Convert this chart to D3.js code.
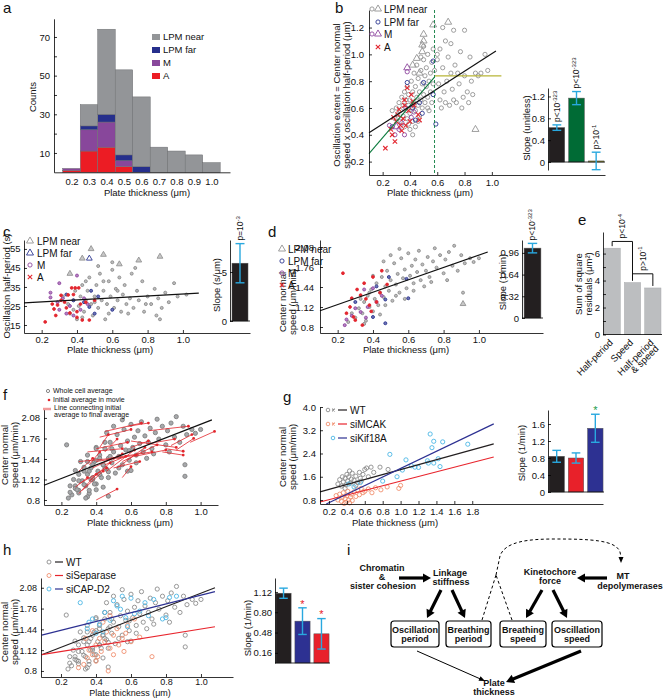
<!DOCTYPE html>
<html>
<head>
<meta charset="utf-8">
<script src="https://cdn.jsdelivr.net/npm/d3@7"></script>
<style>
body { margin: 0; background: #fff; }
</style>
</head>
<body>
<svg id="fig" width="664" height="698"></svg>
<script>
// ---------------- data ----------------
// a: histogram counts per plate-thickness bin
const aBins = [0.2, 0.3, 0.4, 0.5, 0.6, 0.7, 0.8, 0.9, 1.0];
const aA    = [1, 11, 13, 3, 0, 0, 0, 0, 0];
const aM    = [1, 11, 13, 3, 0, 0, 0, 0, 0];
const aFar  = [0, 2, 4, 3, 3, 0, 0, 0, 0];
const aNear = [0, 11, 44, 44, 36, 13, 11, 9, 5];

// b: oscillation extent vs plate thickness
const bNear = [[0.27,0.58],[0.29,0.52],[0.30,0.60],[0.31,0.55],[0.32,0.64],[0.33,0.50],[0.33,0.58],[0.34,0.68],[0.35,0.54],[0.35,0.62],
  [0.36,0.72],[0.36,0.46],[0.37,0.58],[0.37,0.66],[0.38,0.52],[0.38,0.76],[0.39,0.62],[0.39,0.70],[0.40,0.44],[0.40,0.56],
  [0.40,0.66],[0.41,0.80],[0.41,0.60],[0.42,0.72],[0.42,0.50],[0.43,0.64],[0.43,0.86],[0.44,0.58],[0.44,0.76],[0.45,0.68],
  [0.45,0.92],[0.46,0.62],[0.46,0.82],[0.47,0.72],[0.47,0.54],[0.48,0.66],[0.48,0.88],[0.49,0.78],[0.49,0.60],[0.50,0.70],
  [0.50,0.96],[0.51,0.84],[0.51,0.64],[0.52,0.76],[0.52,0.90],[0.53,0.68],[0.53,1.00],[0.54,0.80],[0.54,0.58],[0.55,0.86],
  [0.55,0.72],[0.56,0.94],[0.56,0.64],[0.57,0.78],[0.57,1.04],[0.58,0.88],[0.46,0.50],[0.44,0.46],[0.42,0.40],[0.39,0.48],
  [0.48,0.98],[0.50,1.06],[0.53,0.60],[0.60,0.96],[0.61,0.78],[0.62,0.66],[0.62,1.04],[0.63,0.60],[0.64,0.90],[0.65,0.72],
  [0.66,1.10],[0.66,0.64],[0.67,0.80],[0.68,0.98],[0.69,0.62],[0.70,0.86],[0.71,0.74],[0.72,1.18],[0.72,0.66],[0.73,0.92],
  [0.74,0.64],[0.75,0.86],[0.76,0.78],[0.77,1.02],[0.78,0.60],[0.79,0.68],[0.80,0.84],[0.80,1.18],[0.82,0.72],[0.83,0.64],
  [0.84,0.98],[0.85,0.80],[0.86,0.70],[0.88,0.86],[0.90,0.84],[0.92,0.86],[0.95,1.00],[0.97,0.88],[0.64,1.20],[0.70,1.08],[0.60,1.00]];
const bNearTri = [[0.50,1.15],[0.50,1.10],[0.49,1.07],[0.49,1.02],[0.57,1.22],[0.68,1.24],[0.45,0.97],[0.42,0.92],[0.88,0.44],[0.47,0.86]];
const bFar = [[0.57,0.95],[0.38,0.79],[0.50,0.79],[0.57,0.70],[0.47,0.64],[0.49,0.56],[0.44,0.51],[0.59,0.48],[0.27,0.46],[0.42,0.60]];
const bM = [[0.38,0.87],[0.25,0.47],[0.36,0.40],[0.29,0.40],[0.34,0.49],[0.41,0.53],[0.32,0.44],[0.37,0.60],[0.43,0.57]];
const bMTri = [[0.38,0.90],[0.30,0.46]];
const bA = [[0.22,0.30],[0.29,0.35],[0.27,0.40],[0.33,0.47],[0.36,0.62],[0.38,0.75],[0.42,0.65],[0.46,0.55],[0.47,0.51],[0.28,0.53],
  [0.37,0.47],[0.31,0.55],[0.34,0.43],[0.30,0.50],[0.35,0.52],[0.39,0.58],[0.40,0.50],[0.32,0.59],[0.43,0.62],[0.26,0.44],[0.36,0.66],[0.41,0.70]];
const bFitAll  = [[0.1,0.416],[1.03,1.025]];
const bFitLow  = [[0.1,0.26],[0.58,0.83]];
const bFitHigh = [[0.58,0.84],[1.07,0.84]];
const bCut = 0.58;
const bSlopes = [0.63, 1.17, 0.02];
const bErr    = [0.05, 0.12, 0.16];
const bP = [['p<10','-323'],['p<10','-323'],['p>10','-1']];

// c: oscillation half-period (s)
const cNear = [[0.32,30],[0.35,26],[0.36,21],[0.38,28],[0.39,33],[0.40,18],[0.41,25],[0.42,30],[0.43,36],[0.44,22],
  [0.45,28],[0.46,33],[0.47,40],[0.48,26],[0.49,20],[0.50,30],[0.51,36],[0.52,24],[0.53,42],[0.54,28],[0.55,33],[0.56,18],
  [0.57,26],[0.58,38],[0.59,30],[0.60,44],[0.61,24],[0.62,34],[0.63,28],[0.64,40],[0.65,22],[0.66,31],[0.67,36],[0.68,26],
  [0.70,29],[0.71,42],[0.72,24],[0.74,33],[0.75,28],[0.77,38],[0.78,22],[0.80,30],[0.82,26],[0.84,34],[0.85,20],[0.86,29],
  [0.88,24],[0.90,32],[0.92,27],[0.95,37],[0.97,30],[1.02,31],[0.45,38],[0.50,27],[0.55,38],[0.58,21],[0.63,33],[0.69,21],
  [0.38,23],[0.43,19],[0.79,26],[0.87,18],[0.73,45],[0.60,48],[0.52,46]];
const cNearTri = [[0.36,42],[0.43,50],[0.55,52],[0.64,47],[0.75,49],[0.87,51],[0.48,55]];
const cFarTri = [[0.47,50]];
const cFar = [[0.34,31],[0.48,33],[0.52,30],[0.47,24.5],[0.50,21],[0.60,23],[0.38,28],[0.44,27]];
const cM = [[0.25,32],[0.25,29.5],[0.30,37],[0.40,41],[0.36,25],[0.30,23],[0.34,21],[0.42,23],[0.29,27],[0.44,29],[0.46,26],[0.32,29],[0.38,20]];
const cA = [[0.22,16.6],[0.27,23.4],[0.29,25.5],[0.31,28],[0.31,30.6],[0.35,30.8],[0.37,34.5],[0.39,34.5],[0.41,34.5],[0.34,24],
  [0.36,21.3],[0.40,22],[0.42,26],[0.45,27],[0.50,28],[0.43,17.6],[0.47,17.6],[0.28,20],[0.33,27],[0.38,31],[0.26,26],[0.40,19]];
const cFit = [[0.1,26.6],[1.09,31.8]];
const cSlope = [5.9], cErr = [2.0];

// d: center normal speed (um/min)
const dNear = [[0.30,0.95],[0.32,1.10],[0.34,1.02],[0.35,1.20],[0.36,0.90],[0.37,1.30],[0.38,1.12],[0.39,1.40],[0.40,1.05],[0.41,1.25],
  [0.42,1.50],[0.43,1.15],[0.44,1.35],[0.45,1.60],[0.46,1.28],[0.47,1.45],[0.48,1.70],[0.49,1.38],[0.50,1.55],[0.51,1.22],
  [0.52,1.82],[0.53,1.48],[0.54,1.65],[0.55,1.35],[0.56,1.90],[0.57,1.58],[0.58,1.72],[0.59,1.42],[0.60,1.98],[0.61,1.62],
  [0.62,1.78],[0.63,1.50],[0.64,1.88],[0.65,1.68],[0.66,2.02],[0.67,1.55],[0.68,1.80],[0.70,1.70],[0.71,1.92],[0.72,1.60],
  [0.74,1.85],[0.75,2.06],[0.76,1.75],[0.78,1.95],[0.80,1.66],[0.81,1.88],[0.83,2.00],[0.85,1.78],[0.86,2.10],[0.88,1.70],
  [0.90,1.95],[0.92,1.82],[0.95,1.90],[0.97,1.84],[1.00,1.90],[0.44,1.00],[0.47,1.15],[0.53,1.30],[0.58,1.25],[0.63,1.38],
  [0.40,1.62],[0.46,1.85],[0.50,1.95],[0.55,2.05],[0.69,1.45],[0.73,1.52],[0.82,1.55],[0.91,1.35],[0.35,0.85],[0.26,0.88],
  [0.28,1.02],[0.33,1.25],[0.38,1.35]];
const dNearTri = [[0.91,1.17]];
const dFar = [[0.47,0.86],[0.60,1.26],[0.59,1.57],[0.49,1.60],[0.47,1.24],[0.40,0.96],[0.30,1.20],[0.42,1.45]];
const dM = [[0.24,0.83],[0.25,0.92],[0.33,1.04],[0.37,1.12],[0.40,1.42],[0.35,1.40],[0.42,1.20],[0.30,1.10],[0.36,0.95],[0.45,1.30],[0.28,0.98]];
const dA = [[0.23,1.66],[0.35,1.50],[0.33,1.31],[0.28,1.26],[0.25,1.02],[0.30,0.91],[0.42,1.20],[0.44,1.35],[0.40,1.60],[0.34,0.83],
  [0.45,1.70],[0.38,1.15],[0.31,1.40],[0.27,1.12],[0.36,1.25],[0.48,1.48],[0.29,0.96],[0.39,1.05]];
const dFit = [[0.1,1.06],[1.05,2.0]];
const dSlope = [1.03], dErr = [0.07];

// e: sum of square residuals
const eCats = ['Half-period', 'Speed', 'Half-period|& speed'];
const eVals = [6.4, 3.85, 3.45];
const eBrackets = [{a: 0, b: 1, level: 6.9, p: ['p<10', '-4']}, {a: 1, b: 2, level: 4.5, p: ['p>10', '-1']}];

// f: initial -> final averages  [x0, y0, x1, y1], dot at initial end
const fSegs = [[0.52,0.97,0.40,0.80],[1.08,1.87,0.94,1.70],[0.93,1.95,0.70,1.88],[0.95,1.82,0.83,1.65],[0.90,1.56,0.80,1.60],
  [0.70,2.00,0.58,1.95],[0.66,2.00,0.45,1.87],[0.60,1.90,0.42,1.78],[0.58,1.70,0.40,1.60],[0.86,1.62,0.60,1.72],
  [0.72,1.55,0.48,1.45],[0.63,1.50,0.40,1.40],[0.55,1.60,0.35,1.55],[0.50,1.45,0.30,1.40],[0.46,1.30,0.30,1.05],
  [0.44,1.25,0.32,0.95],[0.40,1.20,0.30,0.90],[0.48,1.38,0.36,1.10],[0.68,1.62,0.52,1.30],[0.75,1.66,0.55,1.40],
  [0.62,1.58,0.46,1.25],[0.55,1.52,0.38,1.30],[0.80,1.58,0.62,1.48],[0.85,1.75,0.70,1.68],[0.90,1.50,0.78,1.55],
  [0.52,1.75,0.45,1.55],[0.57,1.48,0.45,1.35],[0.42,1.55,0.36,1.35],[0.38,1.45,0.30,1.25],[0.65,1.40,0.50,1.30],
  [0.70,1.72,0.60,1.62],[0.96,1.76,0.86,1.58],[0.47,1.82,0.42,1.62],[0.35,1.15,0.28,1.00],[0.60,1.32,0.55,1.15]];
const fFit = [[0.1,1.03],[1.065,2.05]];

// g: siRNA of depolymerases
const gWT = [[0.30,1.35],[0.32,1.50],[0.34,1.28],[0.35,1.60],[0.36,1.42],[0.38,1.55],[0.39,1.32],[0.40,1.68],[0.41,1.45],[0.42,1.60],
  [0.44,1.38],[0.45,1.52],[0.46,1.72],[0.48,1.48],[0.50,1.62],[0.52,1.40],[0.54,1.75],[0.55,1.55],[0.58,1.68],[0.60,1.85],
  [0.62,1.90],[0.64,1.60],[0.67,1.93],[0.70,1.75],[0.77,1.93],[0.86,1.85],[0.38,1.20],[0.43,1.80],[0.50,1.30],[0.56,1.45]];
const gMCAK = [[0.28,0.95],[0.30,0.80],[0.32,1.00],[0.34,0.75],[0.35,0.90],[0.36,1.05],[0.38,0.85],[0.39,0.72],[0.40,0.95],[0.41,1.10],
  [0.42,0.80],[0.44,0.90],[0.45,1.00],[0.46,0.78],[0.48,1.08],[0.50,0.92],[0.52,1.15],[0.54,0.98],[0.56,1.20],[0.58,1.05],
  [0.60,1.10],[0.64,1.18],[0.68,1.05],[0.72,1.22],[0.78,1.15],[0.85,1.25],[0.98,1.20],[1.00,1.30],[0.43,0.70],[0.37,0.68]];
const gKif = [[1.33,3.07],[1.37,2.82],[1.47,2.80],[1.35,2.60],[1.75,2.72],[0.88,2.37],[1.42,2.22],[1.31,2.07],[1.37,2.07],[1.44,1.95],
  [1.16,1.93],[1.12,1.98],[1.06,2.18],[1.02,1.83],[0.96,1.60],[1.20,1.92],[0.80,1.45],[1.30,2.15],[0.55,1.40],[0.48,1.25],[0.42,1.35]];
const gFitWT = [[0.1,1.08],[2.04,2.73]];
const gFitMCAK = [[0.1,0.73],[2.04,2.28]];
const gFitKif = [[0.17,0.66],[2.04,3.42]];
const gSlopes = [0.84, 0.80, 1.50], gErr = [0.14, 0.12, 0.33];

// h: siRNA of cohesion / condensin
const hSep = [[0.30,0.85],[0.33,0.90],[0.35,1.00],[0.36,1.12],[0.38,1.05],[0.40,1.20],[0.40,0.95],[0.42,1.30],[0.43,1.10],[0.45,1.25],
  [0.46,1.40],[0.47,0.80],[0.48,1.15],[0.50,1.35],[0.50,1.05],[0.52,1.45],[0.53,1.20],[0.55,1.30],[0.56,1.10],[0.58,1.50],
  [0.60,1.25],[0.62,1.60],[0.72,1.02],[0.38,1.42],[0.44,1.55],[0.34,1.30],[0.57,1.38],[0.65,1.32],[0.48,1.65],[0.41,1.02]];
const hCap = [[0.31,1.85],[0.35,1.45],[0.38,1.60],[0.40,1.38],[0.42,1.52],[0.45,1.70],[0.48,1.58],[0.50,1.88],[0.52,1.80],[0.54,1.75],
  [0.55,1.95],[0.57,1.62],[0.60,1.92],[0.62,1.68],[0.65,1.72],[0.68,1.85],[0.70,1.65],[0.73,1.90],[0.78,1.60],[0.80,1.62],
  [0.82,1.93],[0.86,1.95],[0.44,1.40],[0.58,1.48],[0.36,1.55]];
const hFitWT = [[0.09,1.05],[1.08,2.08]];
const hFitSep = [[0.09,1.05],[1.08,1.48]];
const hFitCap = [[0.09,1.35],[1.08,2.02]];
const hSlopes = [1.10, 0.66, 0.46], hErr = [0.08, 0.21, 0.24];

// whole-cell averages (all classes) reused in f and h
const allCells = [].concat(dNear, dNearTri, dFar, dM, dA);

// ---------------- drawing ----------------
const FONT = '"Liberation Sans", Arial, Helvetica, sans-serif';
const svg = d3.select('#fig');
const GRAY = '#939393', NAVY = '#2b3590', PURP = '#8f479f', RED = '#e3262f', CYAN = '#29a8df';

function txt(x, y, s, o = {}) {
  const t = svg.append('text').attr('x', x).attr('y', y)
    .attr('font-size', o.size || 9.5).attr('font-family', FONT)
    .attr('text-anchor', o.anchor || 'middle').attr('fill', o.fill || '#111')
    .attr('dy', o.dy == null ? '0.35em' : o.dy).text(s);
  if (o.rot) t.attr('transform', `rotate(${o.rot},${x},${y})`);
  if (o.weight) t.attr('font-weight', o.weight);
  return t;
}

function pLabel(x, yBottom, base, sup, fill) {
  const t = svg.append('text').attr('transform', `translate(${x},${yBottom}) rotate(-90)`)
    .attr('font-size', 8.5).attr('font-family', FONT).attr('dy', '0.35em').attr('fill', fill || '#111');
  t.append('tspan').text(base);
  t.append('tspan').attr('font-size', 6).attr('dy', '-0.55em').text(sup);
}

function styleAxis(sel, fs) {
  sel.attr('font-family', FONT).attr('font-size', fs || 9.5);
  sel.select('.domain').attr('stroke', '#000').attr('stroke-width', 0.8);
  sel.selectAll('.tick line').attr('stroke', '#000').attr('stroke-width', 0.8);
  sel.selectAll('.tick text').attr('fill', '#111');
}

function axes(xs, ys, xt, yt, o = {}) {
  const gx = svg.append('g').attr('transform', `translate(0,${ys.range()[0]})`)
    .call(d3.axisBottom(xs).tickValues(xt).tickSize(o.xTick == null ? -3 : o.xTick).tickSizeOuter(0)
      .tickPadding(o.xpad || 4).tickFormat(o.xf || d3.format('.1f')));
  const gy = svg.append('g').attr('transform', `translate(${xs.range()[0]},0)`)
    .call(d3.axisLeft(ys).tickValues(yt).tickSize(-3).tickSizeOuter(0)
      .tickPadding(o.ypad || 4).tickFormat(o.yf || (d => d)));
  styleAxis(gx, o.fs); styleAxis(gy, o.fs);
}

function marks(xs, ys, pts, shape, stroke, fill, r) {
  const g = svg.append('g');
  pts.forEach(p => {
    const X = xs(p[0]), Y = ys(p[1]);
    if (shape === 'circle') {
      g.append('circle').attr('cx', X).attr('cy', Y).attr('r', r)
        .attr('fill', fill || 'none').attr('stroke', stroke).attr('stroke-width', 0.9);
    } else if (shape === 'tri') {
      g.append('path').attr('d', d3.symbol(d3.symbolTriangle, r * r * 4)())
        .attr('transform', `translate(${X},${Y})`).attr('fill', fill || 'none')
        .attr('stroke', stroke).attr('stroke-width', 0.9);
    } else if (shape === 'x') {
      g.append('path').attr('d', `M${X - r},${Y - r}L${X + r},${Y + r}M${X - r},${Y + r}L${X + r},${Y - r}`)
        .attr('stroke', stroke).attr('stroke-width', 1.1);
    }
  });
}

function fit(xs, ys, pts, color, w, dash) {
  const l = svg.append('path').attr('d', d3.line().x(d => xs(d[0])).y(d => ys(d[1]))(pts))
    .attr('fill', 'none').attr('stroke', color).attr('stroke-width', w || 1.2);
  if (dash) l.attr('stroke-dasharray', dash);
}

function legendMark(x, y, shape, color, fill, r) {
  const s = d3.scaleLinear().domain([0, 1]).range([0, 1]);
  marks(s, s, [[x, y]], shape, color, fill, r);
}

function barInset(o) {
  const band = d3.scaleBand().domain(o.vals.map((d, i) => i)).range(o.xr)
    .paddingInner(0.2).paddingOuter(o.po == null ? 0.05 : o.po);
  const y = o.y;
  svg.append('g').selectAll('rect').data(o.vals).join('rect')
    .attr('x', (d, i) => band(i)).attr('width', band.bandwidth())
    .attr('y', d => Math.min(y(d), y(0))).attr('height', d => Math.abs(y(0) - y(d)))
    .attr('fill', (d, i) => o.colors[i]).attr('stroke', o.edge || '#555').attr('stroke-width', 0.5);
  svg.append('line').attr('x1', o.xr[0]).attr('x2', o.xr[1]).attr('y1', y(0)).attr('y2', y(0))
    .attr('stroke', '#000').attr('stroke-width', 0.8);
  const ga = svg.append('g').attr('transform', `translate(${o.xr[0]},0)`)
    .call(d3.axisLeft(y).tickValues(o.ticks).tickSize(-3).tickSizeOuter(0).tickPadding(3).tickFormat(o.fmt));
  styleAxis(ga);
  if (o.errs) {
    o.vals.forEach((v, i) => {
      const cx = band(i) + band.bandwidth() / 2, hw = band.bandwidth() * 0.28;
      const y1 = y(v - o.errs[i]), y2 = y(v + o.errs[i]);
      const g = svg.append('g').attr('stroke', CYAN).attr('stroke-width', 1.4);
      g.append('line').attr('x1', cx).attr('x2', cx).attr('y1', y1).attr('y2', y2);
      g.append('line').attr('x1', cx - hw).attr('x2', cx + hw).attr('y1', y1).attr('y2', y1);
      g.append('line').attr('x1', cx - hw).attr('x2', cx + hw).attr('y1', y2).attr('y2', y2);
    });
  }
  return band;
}

// ================= panel a =================
txt(3, 8, 'a', {size: 15, anchor: 'start'});
const ax = d3.scaleLinear().domain([0.1, 1.106]).range([54, 230]);
const ay = d3.scaleLinear().domain([0, 79.4]).range([172.3, 18.8]);
const aStack = d3.stack().keys(['A', 'M', 'Far', 'Near'])(aBins.map((b, i) => ({bin: b, A: aA[i], M: aM[i], Far: aFar[i], Near: aNear[i]})));
const aCol = {A: '#ec1c24', M: '#88479b', Far: '#262f8c', Near: '#939598'};
aStack.forEach(layer => {
  svg.append('g').selectAll('rect').data(layer).join('rect')
    .attr('x', d => ax(d.data.bin - 0.05)).attr('width', ax(0.15) - ax(0.05))
    .attr('y', d => ay(d[1])).attr('height', d => ay(d[0]) - ay(d[1]))
    .attr('fill', aCol[layer.key]).attr('stroke', d => d[1] > d[0] ? '#6d6e71' : 'none').attr('stroke-width', 0.5);
});
axes(ax, ay, aBins, [10, 20, 30, 40, 50, 60, 70], {xTick: 0, xpad: 6, ypad: 4, yf: d => (d % 20 === 10 ? d : '')});
txt(33, 97, 'Counts', {rot: -90});
txt(147, 193, 'Plate thickness (μm)');
[['LPM near', 'Near'], ['LPM far', 'Far'], ['M', 'M'], ['A', 'A']].forEach((it, i) => {
  svg.append('rect').attr('x', 152).attr('y', 34 + i * 13).attr('width', 8).attr('height', 6).attr('fill', aCol[it[1]]);
  txt(163, 37 + i * 13, it[0], {anchor: 'start'});
});

// ================= panel b =================
txt(335, 8, 'b', {size: 15, anchor: 'start'});
const bx = d3.scaleLinear().domain([0.1, 1.829]).range([369, 605]);
const by = d3.scaleLinear().domain([0.1, 1.331]).range([175, 10]);
marks(bx, by, bNear, 'circle', GRAY, null, 2.1);
marks(bx, by, bNearTri, 'tri', GRAY, null, 2.3);
marks(bx, by, bFar, 'circle', NAVY, null, 2.1);
marks(bx, by, bM, 'circle', PURP, null, 2.1);
marks(bx, by, bMTri, 'tri', PURP, null, 2.3);
marks(bx, by, bA, 'x', RED, null, 2.2);
fit(bx, by, bFitLow, '#0a7a3c', 1.1);
fit(bx, by, bFitHigh, '#b7b537', 1.3);
fit(bx, by, bFitAll, '#111', 1.2);
svg.append('line').attr('x1', bx(bCut)).attr('x2', bx(bCut)).attr('y1', by.range()[1]).attr('y2', by.range()[0])
  .attr('stroke', '#0a7a3c').attr('stroke-width', 0.9).attr('stroke-dasharray', '3,2');
axes(bx, by, [0.2, 0.4, 0.6, 0.8, 1.0], [0.2, 0.4, 0.6, 0.8, 1.0, 1.2], {xpad: 4.5, ypad: 5, yf: d3.format('.1f')});
txt(337, 95, 'Oscillation extent = Center normal', {rot: -90});
txt(347, 95, 'speed x oscillation half-period (μm)', {rot: -90});
txt(430, 193, 'Plate thickness (μm)');
legendMark(372, 9, 'circle', GRAY, null, 2.1); legendMark(378, 9, 'tri', GRAY, null, 2.3);
legendMark(378, 22, 'circle', NAVY, null, 2.1);
legendMark(372, 34, 'circle', PURP, null, 2.1); legendMark(378, 34, 'tri', PURP, null, 2.3);
legendMark(378, 47, 'x', RED, null, 2.2);
['LPM near', 'LPM far', 'M', 'A'].forEach((s, i) => txt(384, [9, 22, 34, 47][i], s, {anchor: 'start', size: 10}));
// inset
const bIy = d3.scaleLinear().domain([-0.146, 1.355]).range([170, 88]);
const bBand = barInset({vals: bSlopes, errs: bErr, xr: [548, 605], y: bIy, colors: ['#231f20', '#006b35', '#b7b537'],
  ticks: [0, 0.4, 0.8, 1.2], fmt: d => (d === 0 ? '0' : d3.format('.1f')(d))});
bSlopes.forEach((v, i) => pLabel(bBand(i) + bBand.bandwidth() / 2, bIy(v + bErr[i]) - 3, bP[i][0], bP[i][1]));
txt(527, 128, 'Slope (unitless)', {rot: -90});

// ================= panel c =================
txt(3, 232, 'c', {size: 15, anchor: 'start'});
const cx = d3.scaleLinear().domain([0.1, 1.38]).range([24, 250]);
const cy = d3.scaleLinear().domain([10.79, 59.7]).range([333, 240]);
marks(cx, cy, cNear, 'circle', '#8c8c8c', '#bdbdbd', 1.5);
marks(cx, cy, cNearTri, 'tri', GRAY, '#c8c8c8', 1.9);
marks(cx, cy, cFarTri, 'tri', NAVY, null, 1.9);
marks(cx, cy, cFar, 'circle', NAVY, '#6f74b5', 1.5);
marks(cx, cy, cM, 'circle', PURP, '#b580c2', 1.5);
marks(cx, cy, cA, 'circle', RED, RED, 1.4);
fit(cx, cy, cFit, '#111', 1.2);
axes(cx, cy, [0.2, 0.4, 0.6, 0.8, 1.0], [15, 25, 35, 45, 55], {xpad: 3.5, ypad: 3.5});
txt(7, 286, 'Oscillation half-period (s)', {rot: -90});
txt(110, 350, 'Plate thickness (μm)');
legendMark(30, 241, 'tri', GRAY, null, 2.3);
legendMark(30, 253, 'tri', NAVY, null, 2.3);
legendMark(30, 265, 'circle', PURP, null, 2.1);
legendMark(30, 277, 'x', RED, null, 2.2);
['LPM near', 'LPM far', 'M', 'A'].forEach((s, i) => txt(37, 241 + i * 12, s, {anchor: 'start', size: 10}));
const cIy = d3.scaleLinear().domain([0, 8.27]).range([321, 240]);
const cBand = barInset({vals: cSlope, errs: cErr, xr: [230, 250], po: 0.1, y: cIy, colors: ['#231f20'], ticks: [0, 5], fmt: d => d});
pLabel(cBand(0) + cBand.bandwidth() / 2, cIy(cSlope[0] + cErr[0]) - 3, 'p=10', '-3');
txt(217, 285, 'Slope (s/μm)', {rot: -90});

// ================= panel d =================
txt(268, 232, 'd', {size: 15, anchor: 'start'});
const dx = d3.scaleLinear().domain([0.1, 1.363]).range([320, 543]);
const dy = d3.scaleLinear().domain([0.704, 2.192]).range([333, 240]);
marks(dx, dy, dNear, 'circle', '#8c8c8c', '#bdbdbd', 1.5);
marks(dx, dy, dNearTri, 'tri', GRAY, '#c8c8c8', 1.9);
marks(dx, dy, dFar, 'circle', NAVY, '#6f74b5', 1.5);
marks(dx, dy, dM, 'circle', PURP, '#b580c2', 1.5);
marks(dx, dy, dA, 'circle', RED, RED, 1.4);
fit(dx, dy, dFit, '#111', 1.2);
txt(283, 302, 'Center normal', {rot: -90});
txt(293, 302, 'speed (μm/min)', {rot: -90});
axes(dx, dy, [0.2, 0.4, 0.6, 0.8, 1.0], [0.8, 1.12, 1.44, 1.76, 2.08], {xpad: 3.5, ypad: 6});
txt(406, 350, 'Plate thickness (μm)');
legendMark(282, 249, 'tri', GRAY, null, 2.3);
legendMark(282, 261, 'circle', NAVY, null, 2.1);
legendMark(282, 273, 'circle', PURP, null, 2.1);
legendMark(282, 285, 'x', RED, null, 2.2);
['LPM near', 'LPM far', 'M', 'A'].forEach((s, i) => txt(288, 249 + i * 12, s, {anchor: 'start', size: 10}));
const dIy = d3.scaleLinear().domain([0, 1.15]).range([318, 240]);
const dBand = barInset({vals: dSlope, errs: dErr, xr: [522, 543], po: 0.1, y: dIy, colors: ['#231f20'],
  ticks: [0, 0.32, 0.64, 0.96], fmt: d => d});
pLabel(dBand(0) + dBand.bandwidth() / 2, dIy(dSlope[0] + dErr[0]) - 3, 'p<10', '-323');
txt(503, 282, 'Slope (1/min)', {rot: -90});

// ================= panel e =================
txt(578, 220, 'e', {size: 15, anchor: 'start'});
const eY = d3.scaleLinear().domain([0, 7.6]).range([334.5, 232]);
const eBand = barInset({vals: eVals, xr: [603, 662], y: eY, colors: ['#bcbec0', '#bcbec0', '#bcbec0'], edge: '#a7a9ac',
  ticks: [0, 1, 2, 3, 4, 5, 6], fmt: d => (d % 2 === 0 ? d : '')});
eBrackets.forEach(b => {
  const x1 = eBand(b.a) + eBand.bandwidth() / 2, x2 = eBand(b.b) + eBand.bandwidth() / 2, yl = eY(b.level);
  svg.append('path').attr('d', `M${x1},${eY(eVals[b.a]) - 2}V${yl}H${x2}V${eY(eVals[b.b]) - 2}`)
    .attr('fill', 'none').attr('stroke', '#111').attr('stroke-width', 1);
  pLabel((x1 + x2) / 2, yl - 3, b.p[0], b.p[1]);
});
eCats.forEach((c, i) => {
  const lines = c.split('|');
  const X = eBand(i) + eBand.bandwidth() / 2 - 1;
  lines.forEach((s, j) => txt(X + j * 5, 341 + j * 6, s, {anchor: 'end', rot: -45}));
});
txt(579, 284, 'Sum of square', {rot: -90});
txt(589, 284, 'residuals (μm²)', {rot: -90});

// ================= panel f =================
txt(3, 395, 'f', {size: 15, anchor: 'start'});
const fx = d3.scaleLinear().domain([0.1, 1.1]).range([44, 218]);
const fy = d3.scaleLinear().domain([0.722, 2.235]).range([505, 408]);
marks(fx, fy, allCells, 'circle', '#7f7f7f', '#a7a9ac', 2.1);
fSegs.forEach(s => {
  svg.append('line').attr('x1', fx(s[0])).attr('y1', fy(s[1])).attr('x2', fx(s[2])).attr('y2', fy(s[3]))
    .attr('stroke', '#e2262c').attr('stroke-width', 0.8);
  svg.append('circle').attr('cx', fx(s[0])).attr('cy', fy(s[1])).attr('r', 1.4).attr('fill', '#e2262c');
});
fit(fx, fy, fFit, '#111', 1.3);
axes(fx, fy, [0.2, 0.4, 0.6, 0.8, 1.0], [0.8, 1.12, 1.44, 1.76, 2.08], {xpad: 3.5, ypad: 4});
txt(5, 455, 'Center normal', {rot: -90});
txt(15, 455, 'speed (μm/min)', {rot: -90});
txt(130, 523, 'Plate thickness (μm)');
svg.append('circle').attr('cx', 48).attr('cy', 391).attr('r', 1.6).attr('fill', 'none').attr('stroke', '#555').attr('stroke-width', 0.7);
svg.append('circle').attr('cx', 49).attr('cy', 400).attr('r', 1.3).attr('fill', '#e2262c');
svg.append('line').attr('x1', 43).attr('x2', 51).attr('y1', 409).attr('y2', 409).attr('stroke', '#f19a9a').attr('stroke-width', 2.5);
txt(53, 391, 'Whole cell average', {anchor: 'start', size: 7});
txt(53, 400, 'Initial average in movie', {anchor: 'start', size: 7});
txt(54, 408, 'Line connecting initial', {anchor: 'start', size: 7});
txt(54, 414.5, 'average to final average', {anchor: 'start', size: 7});

// ================= panel g =================
txt(283, 397, 'g', {size: 15, anchor: 'start'});
const gx = d3.scaleLinear().domain([0.1, 3.26]).range([320, 603]);
const gy = d3.scaleLinear().domain([0.662, 4.0]).range([504, 407]);
marks(gx, gy, gWT, 'circle', '#8c8c8c', null, 2.1);
marks(gx, gy, gMCAK, 'circle', '#f1906f', null, 2.1);
marks(gx, gy, gKif, 'circle', '#4cb7e5', null, 2.1);
fit(gx, gy, gFitWT, '#231f20', 1.2);
fit(gx, gy, gFitMCAK, '#e8252d', 1.2);
fit(gx, gy, gFitKif, '#2d3192', 1.2);
axes(gx, gy, [0.2, 0.4, 0.6, 0.8, 1.0, 1.2, 1.4, 1.6, 1.8], [0.8, 1.6, 2.4, 3.2, 4.0], {xpad: 4.5, ypad: 4, yf: d3.format('.1f')});
txt(283, 457, 'Center normal', {rot: -90});
txt(293, 457, 'speed (μm/min)', {rot: -90});
txt(395, 523, 'Plate thickness (μm)');
[['WT', '#8c8c8c', '#231f20', true], ['siMCAK', '#f1906f', '#e8252d', true], ['siKif18A', '#4cb7e5', '#2d3192', false]].forEach((it, i) => {
  const Y = 410 + i * 14;
  legendMark(it[3] ? 328 : 333, Y, 'circle', it[1], null, 1.8);
  if (it[3]) legendMark(333.5, Y, 'x', it[1], null, 1.3);
  svg.append('line').attr('x1', 338).attr('x2', 347).attr('y1', Y).attr('y2', Y).attr('stroke', it[2]).attr('stroke-width', 1.2);
  txt(350, Y, it[0], {anchor: 'start', size: 10});
});
const gIy = d3.scaleLinear().domain([0, 1.93]).range([492, 410]);
const gBand = barInset({vals: gSlopes, errs: gErr, xr: [548, 604], y: gIy, colors: ['#231f20', '#e8212a', '#2d3192'],
  ticks: [0, 0.4, 0.8, 1.2, 1.6], fmt: d => (d === 0 ? '0' : d3.format('.1f')(d))});
txt(gBand(2) + gBand.bandwidth() / 2, gIy(gSlopes[2] + gErr[2]) - 4, '*', {fill: '#1a9b4b', size: 11});
txt(522, 453, 'Slope (1/min)', {rot: -90});

// ================= panel h =================
txt(3, 550, 'h', {size: 15, anchor: 'start'});
const hx = d3.scaleLinear().domain([0.0857, 1.183]).range([41, 233]);
const hy = d3.scaleLinear().domain([0.707, 2.23]).range([677, 578]);
marks(hx, hy, allCells, 'circle', '#8c8c8c', null, 2.1);
marks(hx, hy, hSep, 'circle', '#f1906f', null, 2.1);
marks(hx, hy, hCap, 'circle', '#4cb7e5', null, 2.1);
fit(hx, hy, hFitWT, '#231f20', 1.2);
fit(hx, hy, hFitSep, '#e8252d', 1.2);
fit(hx, hy, hFitCap, '#2d3192', 1.2);
axes(hx, hy, [0.2, 0.4, 0.6, 0.8, 1.0], [0.8, 1.12, 1.44, 1.76, 2.08], {xpad: 2, ypad: 4, fs: 9});
txt(5, 632, 'Center normal', {rot: -90});
txt(15, 632, 'speed (μm/min)', {rot: -90});
txt(130, 693, 'Plate thickness (μm)', {size: 9});
[['WT', '#8c8c8c', '#231f20'], ['siSeparase', '#f1906f', '#e8252d'], ['siCAP-D2', '#4cb7e5', '#2d3192']].forEach((it, i) => {
  const Y = 562 + i * 13.5;
  legendMark(49, Y, 'circle', it[1], null, 2);
  svg.append('line').attr('x1', 55).attr('x2', 63).attr('y1', Y).attr('y2', Y).attr('stroke', it[2]).attr('stroke-width', 1.2);
  txt(66, Y, it[0], {anchor: 'start', size: 10});
});
const hIy = d3.scaleLinear().domain([0, 1.34]).range([663, 578]);
const hBand = barInset({vals: hSlopes, errs: hErr, xr: [275, 330], y: hIy, colors: ['#231f20', '#2d3192', '#e8212a'],
  ticks: [0.16, 0.48, 0.80, 1.12], fmt: d3.format('.2f')});
[1, 2].forEach(i => txt(hBand(i) + hBand.bandwidth() / 2, hIy(hSlopes[i] + hErr[i]) - 4, '*', {fill: '#e8212a', size: 11}));
txt(248, 628, 'Slope (1/min)', {rot: -90});

// ================= panel i (diagram) =================
txt(347, 550, 'i', {size: 15, anchor: 'start'});
function arrow(x1, y1, x2, y2, w, hl, hw) {
  const L = Math.hypot(x2 - x1, y2 - y1), ux = (x2 - x1) / L, uy = (y2 - y1) / L;
  const bx0 = x2 - ux * hl, by0 = y2 - uy * hl;
  svg.append('line').attr('x1', x1).attr('y1', y1).attr('x2', bx0 + ux).attr('y2', by0 + uy)
    .attr('stroke', '#000').attr('stroke-width', w);
  svg.append('path').attr('d', `M${x2},${y2}L${bx0 - uy * hw},${by0 + ux * hw}L${bx0 + uy * hw},${by0 - ux * hw}Z`).attr('fill', '#000');
}
const iBoxes = [
  {x: 391, w: 48, t: ['Oscillation', 'period']},
  {x: 446, w: 45, t: ['Breathing', 'period']},
  {x: 500, w: 46, t: ['Breathing', 'speed']},
  {x: 552, w: 50, t: ['Oscillation', 'speed']}];
iBoxes.forEach(b => {
  svg.append('rect').attr('x', b.x).attr('y', 621).attr('width', b.w).attr('height', 26).attr('rx', 3)
    .attr('fill', '#fff').attr('stroke', '#000').attr('stroke-width', 1.2);
  txt(b.x + b.w / 2, 630, b.t[0], {size: 9, weight: 'bold'});
  txt(b.x + b.w / 2, 639, b.t[1], {size: 9, weight: 'bold'});
});
const iText = [
  [382, 568, 'Chromatin'], [382, 577, '&'], [383, 586, 'sister cohesion'],
  [450, 573, 'Linkage'], [451, 582, 'stiffness'],
  [550, 572, 'Kinetochore'], [550, 581, 'force'],
  [623, 575.5, 'MT'], [630, 585.5, 'depolymerases'],
  [494, 683, 'Plate'], [494, 692, 'thickness']];
iText.forEach(t => txt(t[0], t[1], t[2], {size: 9, weight: 'bold'}));
arrow(399, 578, 431, 578, 3.2, 8, 4.5);
arrow(607, 578, 577, 578, 3.2, 8, 4.5);
arrow(441, 590, 427, 618, 3.2, 8, 4.5);
arrow(452, 590, 465, 618, 3.2, 8, 4.5);
arrow(542, 590, 526, 618, 3.2, 8, 4.5);
arrow(553, 590, 567, 618, 3.2, 8, 4.5);
arrow(417, 651, 485, 681, 1, 6, 2.5);
arrow(581, 651, 506, 682, 3.2, 8, 4.5);
const dash = svg.append('g').attr('fill', 'none').attr('stroke', '#000').attr('stroke-width', 1).attr('stroke-dasharray', '3,2.5');
dash.append('path').attr('d', 'M482,620L496,575');
dash.append('path').attr('d', 'M512,620L496,575');
dash.append('path').attr('d', 'M496,575L500,556C505,541 530,539 555,539C590,539 616,540 620,552L621,557');
svg.append('path').attr('d', 'M621,563L618.5,557L623.5,557Z').attr('fill', '#000');
</script>
</body>
</html>
